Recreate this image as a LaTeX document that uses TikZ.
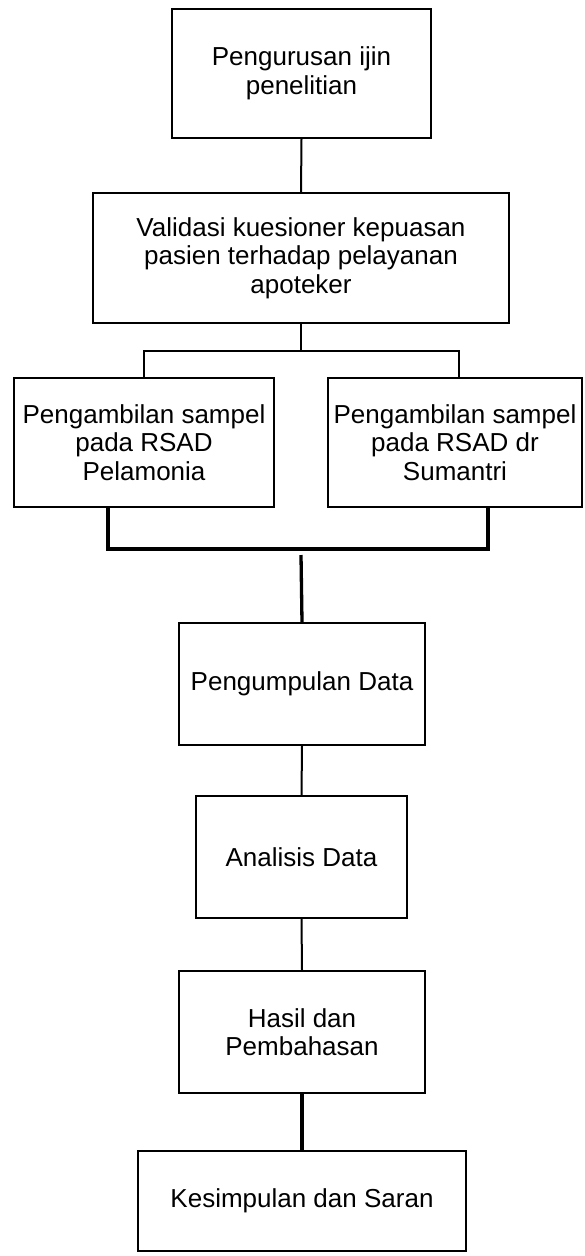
\documentclass[tikz,border=0pt]{standalone}
\usepackage{fontspec}
\setmainfont{Liberation Sans}
\begin{document}
\begin{tikzpicture}[x=1pt,y=-1pt,
  box/.style={draw, line width=2pt, rectangle, align=center, inner sep=0pt,
              font=\fontsize{26}{28.5}\selectfont},
  link/.style={line width=2pt},
  heavy/.style={line width=3.3pt}]
\useasboundingbox (0,0) rectangle (584,1256);

% process boxes
\node[box, minimum width=259pt, minimum height=129pt] (b1) at (301.5,73.5)
  {Pengurusan ijin\\penelitian};
\node[box, minimum width=416pt, minimum height=130pt] (b2) at (301,258)
  {Validasi kuesioner kepuasan\\pasien terhadap pelayanan\\apoteker};
\node[box, minimum width=260pt, minimum height=129pt] (bL) at (144,442.5)
  {Pengambilan sampel\\pada RSAD\\Pelamonia};
\node[box, minimum width=254pt, minimum height=129pt] (bR) at (455,442.5)
  {Pengambilan sampel\\pada RSAD dr\\Sumantri};
\node[box, minimum width=246pt, minimum height=122pt] (b4) at (302,684)
  {Pengumpulan Data};
\node[box, minimum width=211pt, minimum height=122pt] (b5) at (301.5,857)
  {Analisis Data};
\node[box, minimum width=246pt, minimum height=122pt] (b6) at (302,1032)
  {Hasil dan\\Pembahasan};
\node[box, minimum width=328pt, minimum height=100pt] (b7) at (302,1201)
  {Kesimpulan dan Saran};

% branching points
\coordinate (split) at (301,351);
\coordinate (ltop) at (144,378);
\coordinate (rtop) at (459,378);
\coordinate (lbot) at (108,507);
\coordinate (rbot) at (488,507);
\coordinate (join) at (301,549);
\coordinate (down) at (301,555);

% connectors
\draw[link] (b1.south) -- (b2.north);
\draw[link] (b2.south) -- (split);
\draw[link] (ltop) |- (split) -| (rtop);
\draw[heavy] (lbot) |- (join) -| (rbot);
\draw[heavy] (down) -- (b4.north);
\draw[link] (b4.south) -- (b5.north);
\draw[link] (b5.south) -- (b6.north);
\draw[heavy] (b6.south) -- (b7.north);
\end{tikzpicture}
\end{document}
